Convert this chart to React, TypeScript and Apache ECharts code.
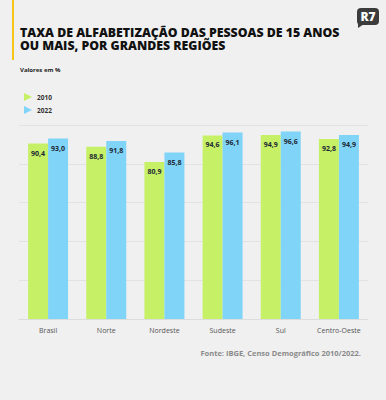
import React, { useEffect, useRef } from "react";
import * as echarts from "echarts";

const categories = ["Brasil", "Norte", "Nordeste", "Sudeste", "Sul", "Centro-Oeste"];
const values2010 = [90.4, 88.8, 80.9, 94.6, 94.9, 92.8];
const values2022 = [93.0, 91.8, 85.8, 96.1, 96.6, 94.9];
const seriesNames = ["2010", "2022"];

const fmt = (v: number) => v.toFixed(1).replace(".", ",");

export default function App() {
  const ref = useRef<HTMLDivElement>(null);
  useEffect(() => {
    if (!ref.current) return;
    const chart = echarts.init(ref.current, null, { renderer: "svg" });
    const font = "'Open Sans', sans-serif";
    const label = {
      show: true,
      position: "insideTop" as const,
      distance: 6,
      fontSize: 7,
      fontWeight: "bold" as const,
      color: "#1c2733",
      fontFamily: font,
      formatter: (p: any) => fmt(p.value),
    };
    const titleStyle = {
      fontSize: 12.3,
      lineHeight: 12.3,
      fontWeight: 800,
      fontFamily: font,
      fill: "#111",
    };
    chart.setOption({
      animation: false,
      backgroundColor: "#f0f0f0",
      textStyle: { fontFamily: font },
      grid: { left: 19, right: 18, top: 125, bottom: 81, containLabel: false },
      legend: {
        orient: "vertical",
        left: 19,
        top: 88,
        itemWidth: 8,
        itemHeight: 8,
        itemGap: 5,
        icon: "path://M0,0 L10,5 L0,10 Z",
        textStyle: { fontSize: 6.5, fontWeight: "bold", color: "#333", fontFamily: font },
        data: seriesNames,
      },
      xAxis: {
        type: "category",
        data: categories,
        axisLine: { lineStyle: { color: "#dcdcdc" } },
        axisTick: { show: false },
        axisLabel: { fontSize: 7, color: "#555", margin: 8, fontFamily: font },
      },
      yAxis: {
        type: "value",
        min: 0,
        max: 100,
        interval: 20,
        axisLabel: { show: false },
        axisLine: { show: false },
        axisTick: { show: false },
        splitLine: { lineStyle: { color: "#e2e2e2", width: 1 } },
      },
      series: [
        {
          name: seriesNames[0],
          type: "bar",
          data: values2010,
          barWidth: 20,
          barGap: "0%",
          itemStyle: { color: "#c6f066" },
          label,
        },
        {
          name: seriesNames[1],
          type: "bar",
          data: values2022,
          barWidth: 20,
          itemStyle: { color: "#80d4f8" },
          label,
        },
      ],
      graphic: [
        { type: "rect", shape: { x: 12, y: 0, width: 2, height: 60 }, style: { fill: "#f5c518" } },
        {
          type: "text",
          left: 20,
          top: 26.5,
          style: { ...titleStyle, text: "TAXA DE ALFABETIZAÇÃO DAS PESSOAS DE 15 ANOS" },
        },
        {
          type: "text",
          left: 20,
          top: 39.2,
          style: { ...titleStyle, text: "OU MAIS, POR GRANDES REGIÕES" },
        },
        {
          type: "text",
          left: 20,
          top: 67,
          style: { text: "Valores em %", fontSize: 6, fontWeight: "bold", fontFamily: font, fill: "#222" },
        },
        {
          type: "text",
          right: 25,
          top: 349,
          style: {
            text: "Fonte: IBGE, Censo Demográfico 2010/2022.",
            fontSize: 7.5,
            fontWeight: "bold",
            fontFamily: font,
            fill: "#8a8a8a",
          },
        },
        {
          type: "rect",
          shape: { x: 357, y: 8, width: 22, height: 17, r: 4 },
          style: { fill: "#3c3c3c" },
        },
        {
          type: "polygon",
          shape: { points: [[358, 20], [358, 28], [364, 24]] },
          style: { fill: "#3c3c3c" },
        },
        {
          type: "text",
          x: 368,
          y: 16.5,
          style: {
            text: "R7",
            fontSize: 12,
            fontWeight: 900,
            fontFamily: font,
            fill: "#ffffff",
            align: "center",
            verticalAlign: "middle",
          },
        },
      ],
    });
    return () => chart.dispose();
  }, []);
  return <div ref={ref} style={{ width: 386, height: 400, position: "absolute", left: 0, top: 0 }} />;
}
